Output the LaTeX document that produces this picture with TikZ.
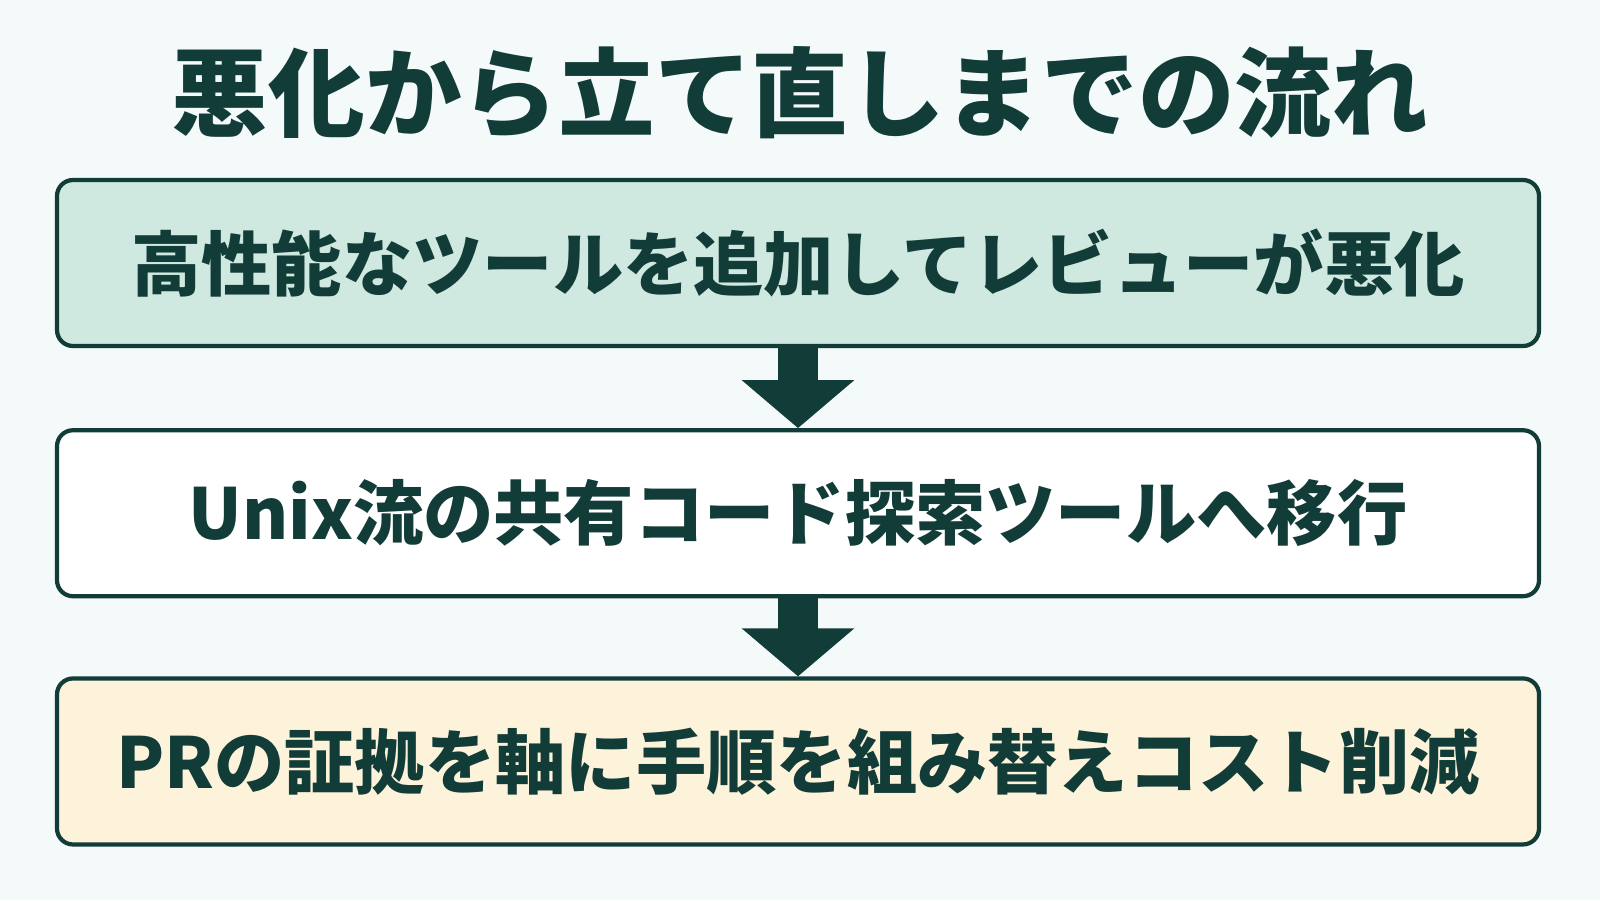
\documentclass[tikz,border=0pt]{standalone}
\usepackage{fontspec}
\setmainfont{Noto Sans CJK JP}
\usepackage{tikz}
\usetikzlibrary{arrows.meta, positioning}
\definecolor{inkteal}{HTML}{113C38}
\definecolor{paper}{HTML}{F4F9F9}
\definecolor{mintfill}{HTML}{CFE8E0}
\definecolor{creamfill}{HTML}{FDF2DA}
\tikzset{
    stepbox/.style={draw=inkteal, line width=1.2pt, rounded corners=0.16cm,
        minimum width=14.82cm, minimum height=1.66cm, text=inkteal,
        font=\bfseries\fontsize{20}{24}\selectfont, inner sep=0pt},
    flowarrow/.style={draw=inkteal, line width=0.4cm,
        -{Triangle[length=0.48cm, width=1.1cm]}},
    headline/.style={text=inkteal, font=\bfseries\fontsize{27.5}{32}\selectfont}
}

\begin{document}
\begin{tikzpicture}
    \fill[paper] (0,0) rectangle (16,-9);
    \useasboundingbox (0,0) rectangle (16,-9);
    \node[headline] (title) at (8,-0.93) {悪化から立て直しまでの流れ};
    % 流れの三段
    \node[stepbox, fill=mintfill] (worse) at (7.98,-2.63) {高性能なツールを追加してレビューが悪化};
    \node[stepbox, fill=white, below=0.8cm of worse] (move) {Unix流の共有コード探索ツールへ移行};
    \node[stepbox, fill=creamfill, below=0.78cm of move] (cut) {PRの証拠を軸に手順を組み替えコスト削減};
    % ブロック矢印
    \draw[flowarrow] (worse.south) -- (move.north);
    \draw[flowarrow] (move.south) -- (cut.north);
\end{tikzpicture}
\end{document}
